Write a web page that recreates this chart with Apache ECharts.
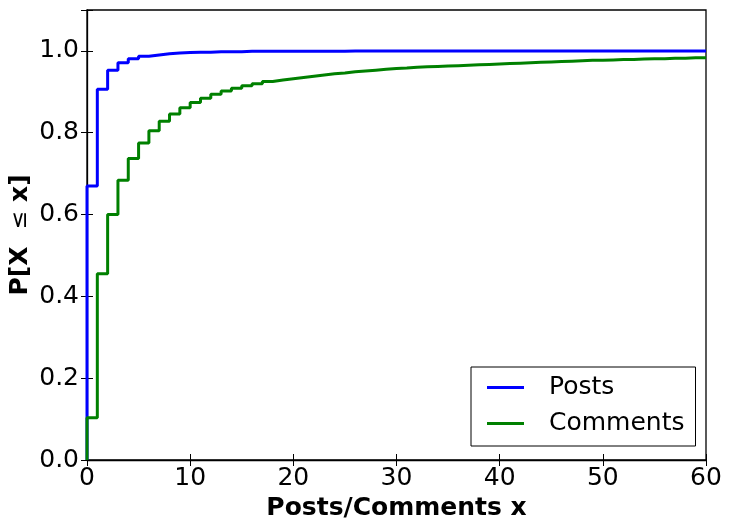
<!DOCTYPE html>
<html>
<head>
<meta charset="utf-8">
<script src="https://cdn.jsdelivr.net/npm/echarts@6/dist/echarts.min.js"></script>
<style>html,body{margin:0;padding:0;background:#fff}#c{width:730px;height:530px}</style>
</head>
<body>
<div id="c"></div>
<script>
const xValues = [0,1,2,3,4,5,6,7,8,9,10,11,12,13,14,15,16,17,18,19,20,21,22,23,24,25,26,27,28,29,30,31,32,33,34,35,36,37,38,39,40,41,42,43,44,45,46,47,48,49,50,51,52,53,54,55,56,57,58,59,60];
const postsCdf = [0.670,0.906,0.953,0.971,0.981,0.987,0.990,0.993,0.995,0.996,0.997,0.997,0.998,0.998,0.998,0.999,0.999,0.999,0.999,0.999,0.999,0.999,0.999,0.999,0.999,1.0,1.0,1.0,1.0,1.0,1.0,1.0,1.0,1.0,1.0,1.0,1.0,1.0,1.0,1.0,1.0,1.0,1.0,1.0,1.0,1.0,1.0,1.0,1.0,1.0,1.0,1.0,1.0,1.0,1.0,1.0,1.0,1.0,1.0,1.0,1.0];
const commentsCdf = [0.103,0.455,0.600,0.684,0.737,0.775,0.805,0.828,0.846,0.861,0.874,0.884,0.894,0.902,0.909,0.915,0.920,0.925,0.929,0.932,0.935,0.938,0.941,0.944,0.946,0.949,0.951,0.953,0.955,0.957,0.958,0.960,0.961,0.962,0.963,0.964,0.965,0.966,0.967,0.968,0.969,0.970,0.971,0.972,0.973,0.974,0.975,0.976,0.977,0.977,0.978,0.979,0.979,0.980,0.981,0.981,0.982,0.982,0.983,0.983,0.984];
const startValue = 0;
const seriesNames = ['Posts','Comments'];
const xTicks = [0,10,20,30,40,50,60];
const yTicks = [0.0,0.2,0.4,0.6,0.8,1.0];

function pairs(ys){
  const out = [[xValues[0], startValue]];
  for (let i = 0; i < xValues.length; i++) out.push([xValues[i], ys[i]]);
  return out;
}

const font = 'DejaVu Sans';
const fs = 25;
const chart = echarts.init(document.getElementById('c'));
const tickCommon = {show:true, inside:true, length:6, lineStyle:{color:'#000', width:1}};
chart.setOption({
  animation:false,
  backgroundColor:'#fff',
  grid:{left:87, right:24, top:10, bottom:70, containLabel:false, outerBoundsMode:'none',
        show:true, borderColor:'#000', borderWidth:1.3},
  legend:{
    orient:'vertical', left:471, top:367,
    data:seriesNames,
    icon:'rect', itemWidth:37, itemHeight:3, itemGap:11,
    padding:[8,11,10,16],
    borderColor:'#000', borderWidth:1, borderRadius:0, backgroundColor:'#fff',
    textStyle:{fontFamily:font, fontSize:fs, color:'#000', padding:[0,0,0,20]}
  },
  xAxis:[{
    type:'value', min:xTicks[0], max:xTicks[xTicks.length-1], interval:10,
    axisLine:{show:true, lineStyle:{color:'#000', width:1.3}},
    axisTick:tickCommon,
    axisLabel:{fontFamily:font, fontSize:fs, color:'#000', margin:6},
    splitLine:{show:false},
    name:'Posts/Comments x', nameLocation:'middle', nameGap:36, nameMoveOverlap:false,
    nameTextStyle:{fontFamily:font, fontSize:fs, fontWeight:'bold', color:'#000'}
  },{
    type:'value', position:'top', min:0, max:60, interval:10,
    axisLine:{show:false}, axisTick:tickCommon, axisLabel:{show:false}, splitLine:{show:false}
  }],
  yAxis:[{
    type:'value', min:0, max:1.1, interval:0.2,
    axisLine:{show:true, lineStyle:{color:'#000', width:1.3}},
    axisTick:tickCommon,
    axisLabel:{fontFamily:font, fontSize:fs, color:'#000', margin:8,
      formatter:function(v){ return yTicks.some(t=>Math.abs(t-v)<1e-9) ? v.toFixed(1) : ''; }},
    splitLine:{show:false},
    name:'{b|P[X  }{n|≤}{b| x]}', nameLocation:'middle', nameGap:54, nameRotate:90, nameMoveOverlap:false,
    nameTextStyle:{rich:{
      b:{fontFamily:font, fontSize:fs, fontWeight:'bold', color:'#000'},
      n:{fontFamily:font, fontSize:22, fontWeight:'normal', color:'#000'}
    }}
  },{
    type:'value', position:'right', min:0, max:1.1, interval:0.2,
    axisLine:{show:false}, axisTick:tickCommon, axisLabel:{show:false}, splitLine:{show:false}
  }],
  series:[
    {name:seriesNames[0], type:'line', step:'end', data:pairs(postsCdf), showSymbol:false, symbol:'none',
     lineStyle:{color:'#0000ff', width:3}, itemStyle:{color:'#0000ff'}, clip:true},
    {name:seriesNames[1], type:'line', step:'end', data:pairs(commentsCdf), showSymbol:false, symbol:'none',
     lineStyle:{color:'#008000', width:3}, itemStyle:{color:'#008000'}, clip:true}
  ]
});
</script>
</body>
</html>
